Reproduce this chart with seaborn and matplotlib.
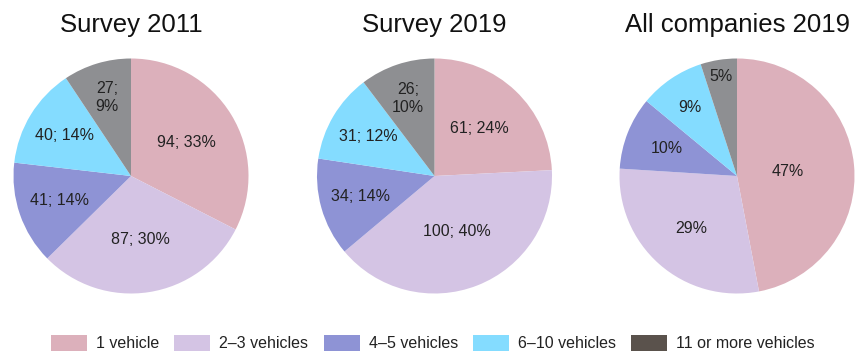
import matplotlib
matplotlib.use("Agg")
import matplotlib.pyplot as plt
import seaborn as sns
from matplotlib.patches import Patch
import numpy as np

sns.set_theme(style="white")
plt.rcParams['font.family'] = ['Liberation Sans', 'DejaVu Sans']

categories = ["1 vehicle", "2\u20133 vehicles", "4\u20135 vehicles", "6\u201310 vehicles", "11 or more vehicles"]
titles = ["Survey 2011", "Survey 2019", "All companies 2019"]
counts_2011 = [94, 87, 41, 40, 27]
pct_2011 = [33, 30, 14, 14, 9]
counts_2019 = [61, 100, 34, 31, 26]
pct_2019 = [24, 40, 14, 12, 10]
pct_all_2019 = [47, 29, 10, 9, 5]

labels_2011 = ["94; 33%", "87; 30%", "41; 14%", "40; 14%", "27;\n9%"]
labels_2019 = ["61; 24%", "100; 40%", "34; 14%", "31; 12%", "26;\n10%"]
labels_all = ["47%", "29%", "10%", "9%", "5%"]

slice_colors = ["#dcb0bb", "#d4c4e4", "#8e93d5", "#84dcff", "#8e8f92"]
legend_colors = ["#dcb0bb", "#d4c4e4", "#8e93d5", "#84dcff", "#5a524c"]

W, H = 855, 354
fig = plt.figure(figsize=(W / 100, H / 100), dpi=100)

centers = [(131, 176), (434.5, 176), (737, 176)]
R = 117.5
datasets = [(counts_2011, labels_2011), (counts_2019, labels_2019), (pct_all_2019, labels_all)]
label_dist = [
    [0.55, 0.55, 0.64, 0.66, 0.70],
    [0.56, 0.51, 0.65, 0.66, 0.70],
    [0.43, 0.59, 0.64, 0.71, 0.86],
]

for i, ((cx, cy), (vals, labs), title) in enumerate(zip(centers, datasets, titles)):
    ax = fig.add_axes([(cx - R) / W, (H - cy - R) / H, 2 * R / W, 2 * R / H])
    wedges, _ = ax.pie(vals, colors=slice_colors, startangle=90, counterclock=False,
                       radius=1.0, wedgeprops=dict(edgecolor="none", linewidth=0))
    for w, lab, d in zip(wedges, labs, label_dist[i]):
        ang = np.deg2rad((w.theta1 + w.theta2) / 2)
        ax.text(d * np.cos(ang), d * np.sin(ang), lab, ha="center", va="center",
                fontsize=11.5, color="#222222", linespacing=1.25)
    ax.set_xlim(-1, 1)
    ax.set_ylim(-1, 1)
    ax.set_aspect("equal")
    ax.axis("off")
    fig.text(cx / W, 1 - 25 / H, title, ha="center", va="center", fontsize=18.5, color="#111111")

handles = [Patch(facecolor=c, edgecolor="none") for c in legend_colors]
fig.legend(handles, categories, loc="center", bbox_to_anchor=(433 / W, 11 / H), ncol=5,
           frameon=False, fontsize=11.5, handlelength=2.25, handleheight=1.13,
           handletextpad=0.57, columnspacing=0.95, borderpad=0, labelcolor="#222222")

fig.savefig("out.png", dpi=100)
